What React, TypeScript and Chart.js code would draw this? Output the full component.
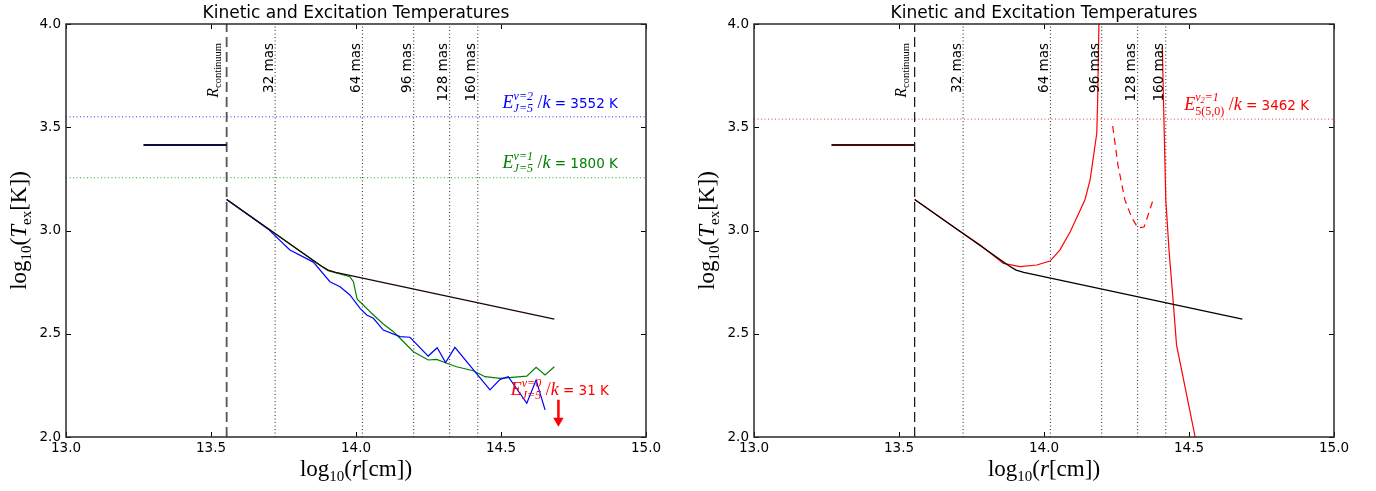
import React, { useEffect, useRef } from 'react';
import { Chart, registerables } from 'chart.js';

Chart.register(...registerables);

// ---------- data ----------
const X_RANGE = [13.0, 15.0];
const Y_RANGE = [2.0, 4.0];
const xTickValues = [13.0, 13.5, 14.0, 14.5, 15.0];
const yTickValues = [2.0, 2.5, 3.0, 3.5, 4.0];

const rContinuum = 13.554;
const masRadii = [13.721, 14.022, 14.199, 14.323, 14.42];
const masLabels = ['32 mas', '64 mas', '96 mas', '128 mas', '160 mas'];

// inner (continuum) temperature step
const stepX = [13.267, 13.554];
const stepY = [3.414, 3.414];

// kinetic temperature
const kineticX = [13.554, 13.7, 13.88, 13.904, 13.93, 14.684];
const kineticY = [3.15, 3.006, 2.828, 2.808, 2.797, 2.571];

// left panel: v=2 (blue) and v=1 (green) excitation temperatures
const blueX = [13.554, 13.7, 13.772, 13.853, 13.91, 13.945, 13.979, 14.014, 14.037, 14.06, 14.094, 14.152, 14.186, 14.249, 14.28, 14.309, 14.341, 14.462, 14.497, 14.525, 14.589, 14.621, 14.652];
const blueY = [3.15, 3.003, 2.906, 2.847, 2.752, 2.728, 2.688, 2.623, 2.591, 2.575, 2.518, 2.486, 2.483, 2.392, 2.432, 2.36, 2.434, 2.228, 2.279, 2.292, 2.163, 2.276, 2.131];

const greenX = [13.554, 13.7, 13.88, 13.904, 13.979, 13.991, 14.004, 14.025, 14.054, 14.094, 14.129, 14.152, 14.198, 14.249, 14.278, 14.313, 14.347, 14.404, 14.445, 14.497, 14.589, 14.621, 14.652, 14.684];
const greenY = [3.15, 3.006, 2.828, 2.805, 2.776, 2.752, 2.667, 2.639, 2.599, 2.547, 2.51, 2.478, 2.413, 2.373, 2.376, 2.357, 2.34, 2.321, 2.292, 2.284, 2.295, 2.338, 2.3, 2.34];

// v=0 upper-limit arrow
const arrowX = [14.698, 14.698];
const arrowY = [2.18, 2.079];

// energy levels (log10 E/k)
const levelV2 = 3.5505; // 3552 K
const levelV1 = 3.2553; // 1800 K
const levelNu2 = 3.5393; // 3462 K

// right panel: nu2=1 excitation temperature branches
const red1X = [13.554, 13.7, 13.78, 13.86, 13.917, 13.975, 14.021, 14.055, 14.09, 14.141, 14.159, 14.182, 14.185, 14.19];
const red1Y = [3.15, 3.006, 2.93, 2.841, 2.825, 2.833, 2.852, 2.906, 2.993, 3.148, 3.245, 3.471, 3.632, 4.05];
const redDashX = [14.237, 14.255, 14.279, 14.303, 14.324, 14.345, 14.359, 14.376];
const redDashY = [3.506, 3.317, 3.148, 3.061, 3.012, 3.017, 3.075, 3.148];
const red2X = [14.408, 14.412, 14.42, 14.431, 14.446, 14.457, 14.527];
const red2Y = [3.889, 3.632, 3.148, 2.906, 2.647, 2.446, 1.96];

// ---------- helpers ----------
const SANS = "'DejaVu Sans'";
const SERIF = "'Liberation Serif'";
const pts = (xs: number[], ys: number[]) => xs.map((x, i) => ({ x, y: ys[i] }));

type Run = { t?: string; f?: string; dy?: number; sup?: Run[]; sub?: Run[] };

function measureRuns(ctx: CanvasRenderingContext2D, runs: Run[]): number {
  let w = 0;
  for (const r of runs) {
    if (r.sup || r.sub) {
      w += Math.max(r.sup ? measureRuns(ctx, r.sup) : 0, r.sub ? measureRuns(ctx, r.sub) : 0);
    } else {
      ctx.font = r.f!;
      w += ctx.measureText(r.t!).width;
    }
  }
  return w;
}

function drawRunsAt(ctx: CanvasRenderingContext2D, runs: Run[], x: number, y: number): number {
  let cx = x;
  for (const r of runs) {
    if (r.sup || r.sub) {
      const w1 = r.sup ? drawRunsAt(ctx, r.sup, cx, y) : 0;
      const w2 = r.sub ? drawRunsAt(ctx, r.sub, cx, y) : 0;
      cx += Math.max(w1, w2);
    } else {
      ctx.font = r.f!;
      ctx.fillText(r.t!, cx, y + (r.dy || 0));
      cx += ctx.measureText(r.t!).width;
    }
  }
  return cx - x;
}

function drawRich(ctx: CanvasRenderingContext2D, runs: Run[], x: number, y: number, align: 'left' | 'center' | 'right', rot: number, color: string) {
  ctx.save();
  ctx.fillStyle = color;
  ctx.textAlign = 'left';
  ctx.textBaseline = 'alphabetic';
  ctx.translate(x, y);
  if (rot) ctx.rotate(rot);
  const w = measureRuns(ctx, runs);
  const x0 = align === 'left' ? 0 : align === 'center' ? -w / 2 : -w;
  drawRunsAt(ctx, runs, x0, 0);
  ctx.restore();
}

const it18 = `italic 18px ${SERIF}`;
const it12 = `italic 12px ${SERIF}`;
const it8 = `italic 8.5px ${SERIF}`;
const rm12 = `12px ${SERIF}`;
const sans = `13.5px ${SANS}`;

function energyRuns(sup: Run[], sub: Run[], value: string): Run[] {
  return [
    { t: 'E', f: it18 },
    { sup, sub },
    { t: ' /', f: `18px ${SERIF}` },
    { t: 'k', f: it18 },
    { t: ' = ' + value, f: sans },
  ];
}

const rm23 = `23px ${SERIF}`;
const it23 = `italic 23px ${SERIF}`;
const rm15 = `15px ${SERIF}`;
const xLabelRuns: Run[] = [
  { t: 'log', f: rm23 }, { t: '10', f: rm15, dy: 5 }, { t: '(', f: rm23 }, { t: 'r', f: it23 }, { t: '[cm])', f: rm23 },
];
const yLabelRuns: Run[] = [
  { t: 'log', f: rm23 }, { t: '10', f: rm15, dy: 5 }, { t: '(', f: rm23 }, { t: 'T', f: it23 }, { t: 'ex', f: rm15, dy: 5 }, { t: '[K])', f: rm23 },
];

function makeConfig(which: 'left' | 'right'): any {
  const isLeft = which === 'left';
  const vline = (xv: number) => [{ x: xv, y: Y_RANGE[0] }, { x: xv, y: Y_RANGE[1] }];
  const hline = (yv: number) => [{ x: X_RANGE[0], y: yv }, { x: X_RANGE[1], y: yv }];
  const base = { showLine: true, pointRadius: 0, tension: 0, fill: false };

  const datasets: any[] = [];
  datasets.push({ ...base, data: pts(kineticX, kineticY), borderColor: isLeft ? '#1a0606' : '#000000', borderWidth: 1.3 });
  datasets.push({ ...base, data: pts(stepX, stepY), borderColor: isLeft ? '#0c0f3c' : '#3e0c0c', borderWidth: 1.8 });
  if (isLeft) {
    datasets.push({ ...base, data: pts(blueX, blueY), borderColor: '#0000ff', borderWidth: 1.2 });
    datasets.push({ ...base, data: pts(greenX, greenY), borderColor: '#008000', borderWidth: 1.2 });
    datasets.push({
      ...base, data: pts(arrowX, arrowY), borderColor: '#ff0000', borderWidth: 2.5,
      pointRadius: [0, 6], pointStyle: 'triangle', pointRotation: 180, pointBackgroundColor: '#ff0000', pointBorderColor: '#ff0000', pointBorderWidth: 0,
    });
    datasets.push({ ...base, data: hline(levelV2), borderColor: '#3333ff', borderWidth: 1, borderDash: [1, 2.5] });
    datasets.push({ ...base, data: hline(levelV1), borderColor: '#2a9a2a', borderWidth: 1, borderDash: [1, 2.5] });
  } else {
    datasets.push({ ...base, data: pts(red1X, red1Y), borderColor: '#ff0000', borderWidth: 1.2 });
    datasets.push({ ...base, data: pts(redDashX, redDashY), borderColor: '#ff0000', borderWidth: 1.2, borderDash: [7, 5] });
    datasets.push({ ...base, data: pts(red2X, red2Y), borderColor: '#ff0000', borderWidth: 1.2 });
    datasets.push({ ...base, data: hline(levelNu2), borderColor: '#ff3333', borderWidth: 1, borderDash: [1, 2.5] });
  }
  for (const r of masRadii) {
    datasets.push({ ...base, data: vline(r), borderColor: '#222222', borderWidth: 1, borderDash: [1, 2.5] });
  }
  datasets.push({ ...base, data: vline(rContinuum), borderColor: isLeft ? '#555555' : '#111111', borderWidth: isLeft ? 1.8 : 1.2, borderDash: [10, 5] });

  const decor = {
    id: 'decor',
    afterDraw(chart: any) {
      const { ctx, chartArea: a } = chart;
      const xs = chart.scales.x;
      const ys = chart.scales.y;
      ctx.save();
      // inside ticks
      ctx.strokeStyle = '#000';
      ctx.lineWidth = 1;
      ctx.beginPath();
      for (const v of xTickValues) {
        const px = Math.round(xs.getPixelForValue(v)) + 0.5;
        ctx.moveTo(px, a.bottom); ctx.lineTo(px, a.bottom - 5);
        ctx.moveTo(px, a.top); ctx.lineTo(px, a.top + 5);
      }
      for (const v of yTickValues) {
        const py = Math.round(ys.getPixelForValue(v)) + 0.5;
        ctx.moveTo(a.left, py); ctx.lineTo(a.left + 5, py);
        ctx.moveTo(a.right, py); ctx.lineTo(a.right - 5, py);
      }
      ctx.stroke();
      // frame
      ctx.strokeStyle = '#2a2a2a';
      ctx.lineWidth = 1.5;
      ctx.strokeRect(a.left, a.top, a.right - a.left, a.bottom - a.top);
      ctx.restore();

      const cx = (a.left + a.right) / 2;
      // title
      drawRich(ctx, [{ t: 'Kinetic and Excitation Temperatures', f: `17px ${SANS}` }], cx, a.top - 6, 'center', 0, '#000');
      // axis labels
      drawRich(ctx, xLabelRuns, cx, 476, 'center', 0, '#000');
      drawRich(ctx, yLabelRuns, 26, (a.top + a.bottom) / 2, 'center', -Math.PI / 2, '#000');
      // mas labels
      masRadii.forEach((r, i) => {
        const px = xs.getPixelForValue(r);
        drawRich(ctx, [{ t: masLabels[i], f: sans }], px - 2.5, a.top + 19, 'right', -Math.PI / 2, '#000');
      });
      // R_continuum
      const pr = xs.getPixelForValue(rContinuum);
      drawRich(ctx, [{ t: 'R', f: `italic 16px ${SERIF}` }, { t: 'continuum', f: `10.5px ${SERIF}`, dy: 3 }], pr - 8.5, a.top + 19, 'right', -Math.PI / 2, '#000');

      if (isLeft) {
        drawRich(ctx, energyRuns([{ t: 'v=2', f: it12, dy: -8 }], [{ t: 'J=5', f: it12, dy: 4 }], '3552 K'),
          xs.getPixelForValue(14.903), ys.getPixelForValue(levelV2) - 9, 'right', 0, '#0000ff');
        drawRich(ctx, energyRuns([{ t: 'v=1', f: it12, dy: -8 }], [{ t: 'J=5', f: it12, dy: 4 }], '1800 K'),
          xs.getPixelForValue(14.903), ys.getPixelForValue(levelV1) - 10, 'right', 0, '#008000');
        drawRich(ctx, energyRuns([{ t: 'v=0', f: it12, dy: -8 }], [{ t: 'J=5', f: it12, dy: 4 }], '31 K'),
          xs.getPixelForValue(14.872), 395, 'right', 0, '#ff0000');
      } else {
        drawRich(ctx, energyRuns(
          [{ t: 'ν', f: it12, dy: -9 }, { t: '2', f: it8, dy: -7 }, { t: '=1', f: it12, dy: -9 }],
          [{ t: '5(5,0)', f: rm12, dy: 5 }], '3462 K'),
          xs.getPixelForValue(14.914), ys.getPixelForValue(levelNu2) - 9, 'right', 0, '#ff0000');
      }
    },
  };

  return {
    type: 'scatter',
    data: { datasets },
    options: {
      animation: false,
      responsive: false,
      devicePixelRatio: 1,
      events: [],
      layout: { padding: { top: 24, right: 42, left: 0, bottom: 0 } },
      plugins: { legend: { display: false }, tooltip: { enabled: false }, title: { display: false } },
      scales: {
        x: {
          type: 'linear', min: X_RANGE[0], max: X_RANGE[1],
          afterFit: (s: any) => { s.height = 54; },
          afterBuildTicks: (s: any) => { s.ticks = xTickValues.map((value) => ({ value })); },
          grid: { display: false, drawTicks: false },
          border: { display: false },
          ticks: { padding: 3, color: '#000', font: { family: 'DejaVu Sans', size: 13.5 }, callback: (v: any) => Number(v).toFixed(1), maxRotation: 0, autoSkip: false },
        },
        y: {
          type: 'linear', min: Y_RANGE[0], max: Y_RANGE[1],
          afterFit: (s: any) => { s.width = 66; },
          afterBuildTicks: (s: any) => { s.ticks = yTickValues.map((value) => ({ value })); },
          grid: { display: false, drawTicks: false },
          border: { display: false },
          ticks: { padding: 5, color: '#000', font: { family: 'DejaVu Sans', size: 13.5 }, callback: (v: any) => Number(v).toFixed(1), autoSkip: false },
        },
      },
    },
    plugins: [decor],
  };
}

function Panel({ which }: { which: 'left' | 'right' }) {
  const ref = useRef<HTMLCanvasElement>(null);
  useEffect(() => {
    const chart = new Chart(ref.current as HTMLCanvasElement, makeConfig(which));
    return () => chart.destroy();
  }, [which]);
  return <canvas ref={ref} width={688} height={491} style={{ display: 'block', width: 688, height: 491 }} />;
}

export default function App() {
  return (
    <div style={{ position: 'absolute', left: 0, top: 0, width: 1376, height: 491, display: 'flex', background: '#fff' }}>
      <Panel which="left" />
      <Panel which="right" />
    </div>
  );
}
